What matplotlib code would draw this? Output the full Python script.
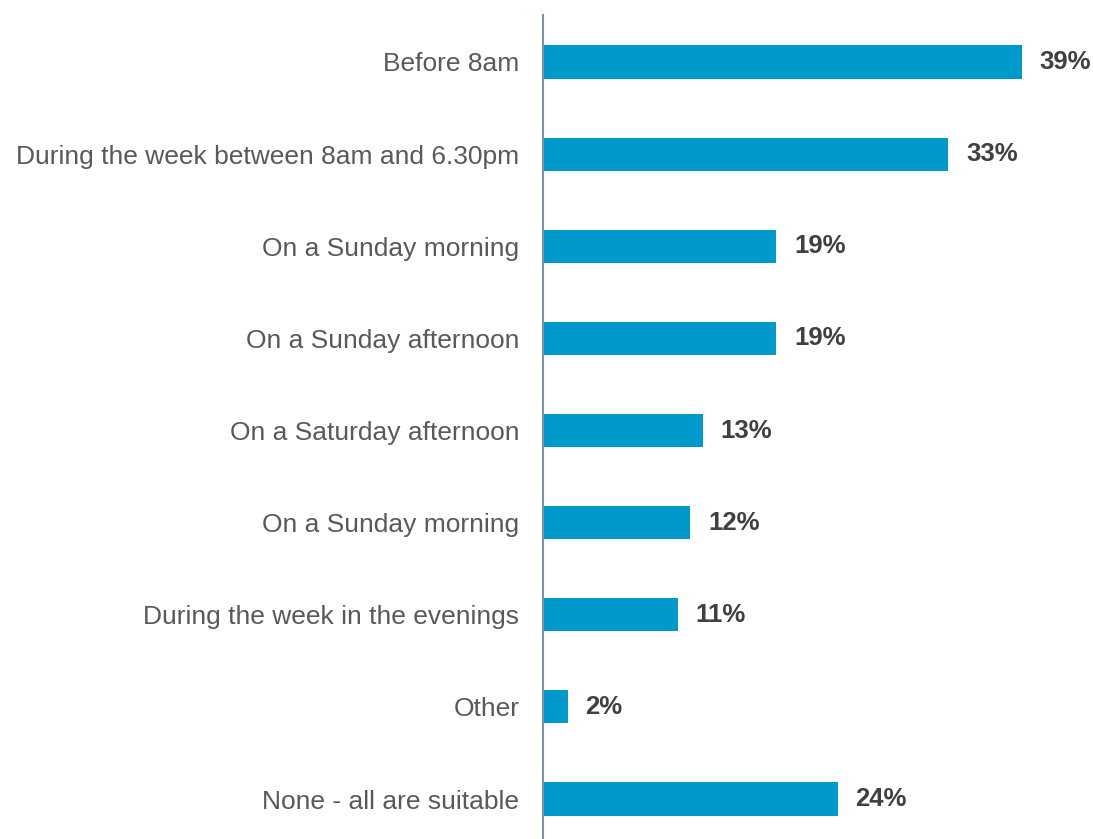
import matplotlib.pyplot as plt
import numpy as np

plt.rcParams['font.family'] = ['Liberation Sans', 'DejaVu Sans']

# preferred times, share of respondents
categories = ['Before 8am',
              'During the week between 8am and 6.30pm',
              'On a Sunday morning',
              'On a Sunday afternoon',
              'On a Saturday afternoon',
              'On a Sunday morning',
              'During the week in the evenings',
              'Other',
              'None - all are suitable']
values = [39, 33, 19, 19, 13, 12, 11, 2, 24]

fig = plt.figure(figsize=(10.93, 8.39), dpi=100)
ax = fig.add_axes([543 / 1093, 0, 550 / 1093, 824 / 839])

pos = np.arange(len(categories))
ax.barh(pos, values, height=0.36, color='#0099CC', left=0)

for p, v in zip(pos, values):
    ax.text(v + 1.45, p, f'{v}%', va='center', ha='left',
            fontsize=18.5, fontweight='bold', color='#404040')

ax.set_yticks(pos)
ax.set_yticklabels(categories, fontsize=19, color='#595959')
ax.tick_params(axis='y', length=0, pad=17)
ax.set_xticks([])
ax.set_xlim(0, 44.8)
ax.set_ylim(8.434, -0.51)

for side in ['top', 'right', 'bottom']:
    ax.spines[side].set_visible(False)
ax.spines['left'].set_color('#8090A0')
ax.spines['left'].set_linewidth(1.5)

fig.savefig('out.png', dpi=100)
